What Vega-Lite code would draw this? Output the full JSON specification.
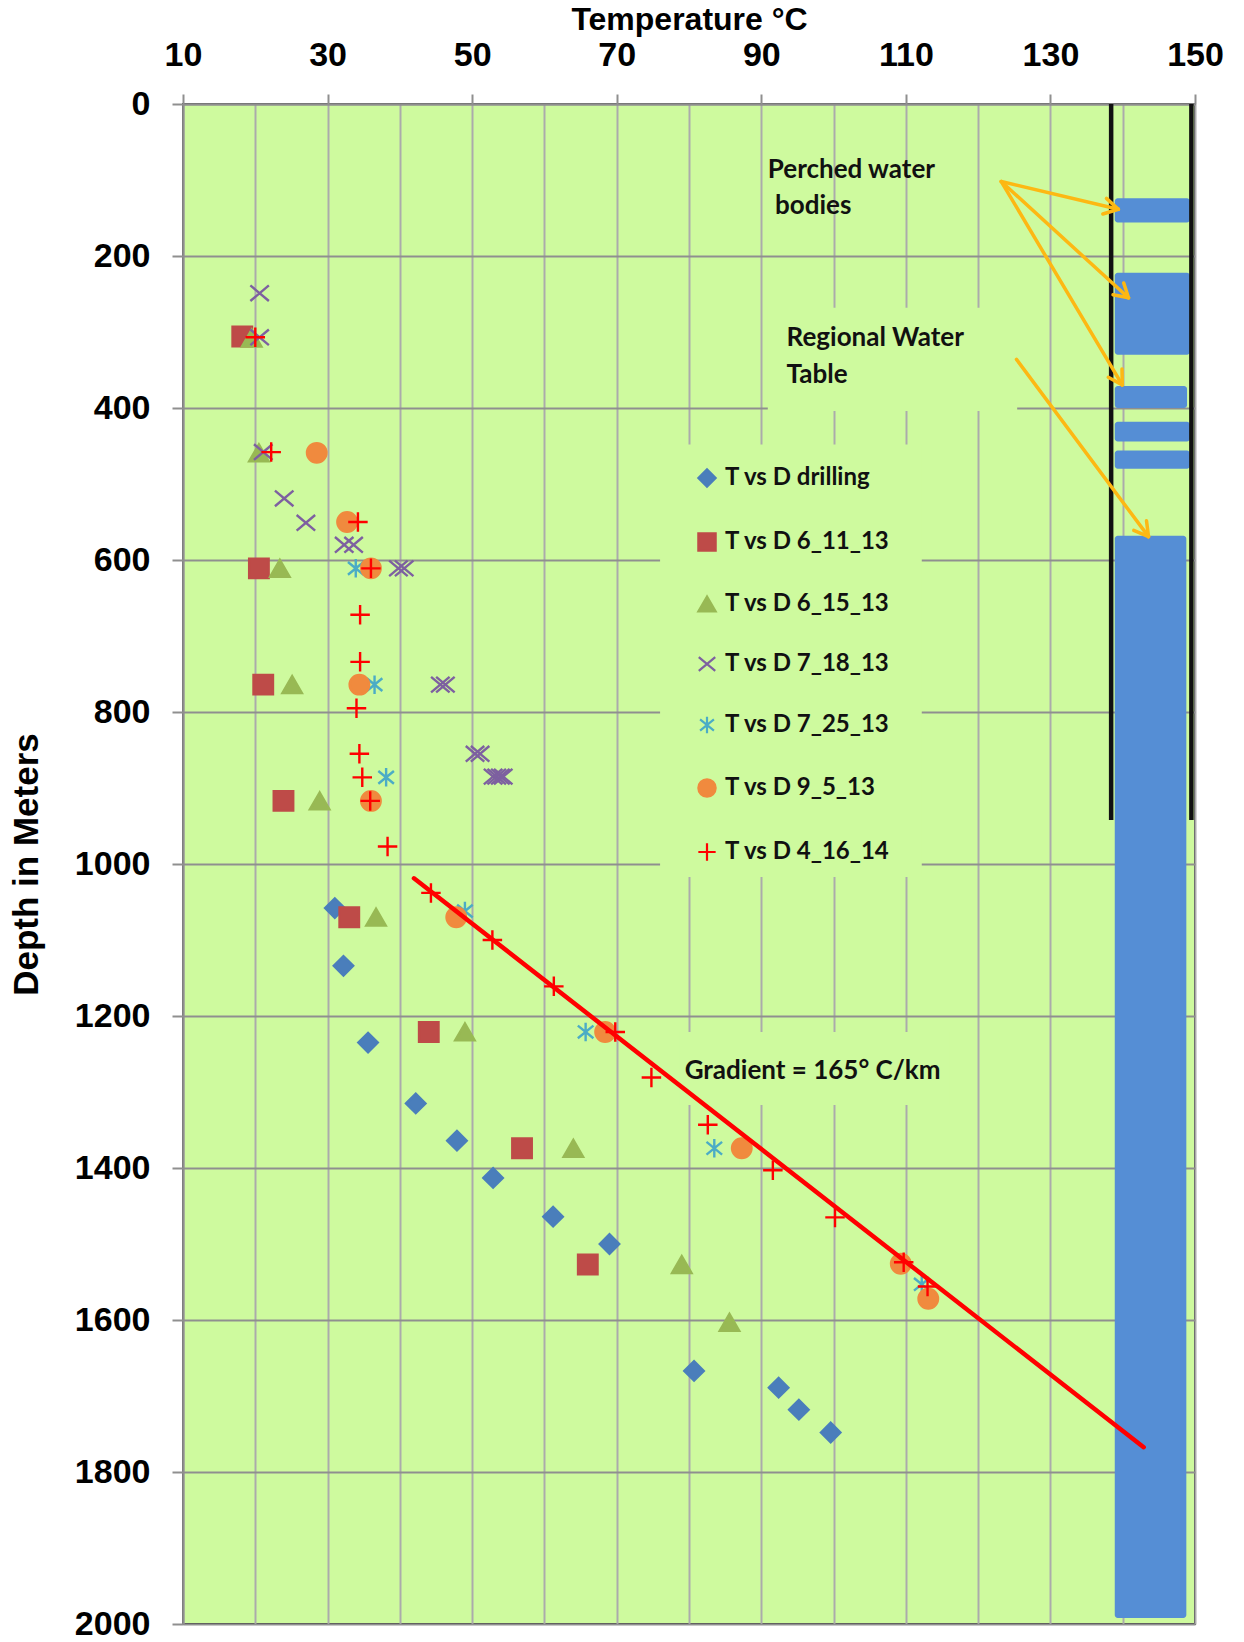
{
  "$schema": "https://vega.github.io/schema/vega-lite/v6.json",
  "width": 1012,
  "height": 1520,
  "autosize": {"type": "none"},
  "padding": {"left": 183, "top": 104, "right": 49, "bottom": 18},
  "background": "white",
  "config": {
    "view": {"fill": "#CEFA9E", "stroke": "#333333", "strokeWidth": 2},
    "legend": {
      "orient": "none",
      "legendX": 512,
      "legendY": 362,
      "title": null,
      "labelFont": "Lato",
      "labelFontSize": 24,
      "labelFontWeight": "bold",
      "labelColor": "#111111",
      "symbolSize": 300,
      "symbolStrokeWidth": 2.2,
      "rowPadding": 36,
      "labelOffset": 6,
      "padding": 0,
      "labelLimit": 400
    }
  },
  "datasets": {
    "covers": [
      {"t": 76.0, "t2": 112.2, "d": 448, "d2": 1017},
      {"t": 90.9, "t2": 125.4, "d": 268, "d2": 404},
      {"t": 78.7, "t2": 116.1, "d": 1221, "d2": 1317}
    ],
    "water": [
      {"t": 138.9, "t2": 149.3, "d": 124, "d2": 156},
      {"t": 138.9, "t2": 149.3, "d": 222, "d2": 330},
      {"t": 138.9, "t2": 148.9, "d": 371, "d2": 400},
      {"t": 138.9, "t2": 149.3, "d": 418, "d2": 444},
      {"t": 138.9, "t2": 149.3, "d": 456, "d2": 480},
      {"t": 138.9, "t2": 148.8, "d": 568, "d2": 1992}
    ],
    "casing": [
      {"t": 138.4, "d": 0, "d2": 942},
      {"t": 149.5, "d": 0, "d2": 942}
    ],
    "arrows": [
      {"t": 123.2, "d": 102, "t2": 139.4, "d2": 138.5},
      {"t": 123.2, "d": 102, "t2": 140.8, "d2": 255.0},
      {"t": 123.2, "d": 102, "t2": 139.94, "d2": 369.6},
      {"t": 125.3, "d": 336, "t2": 143.57, "d2": 569.3},
      {"t": 139.4, "d": 138.5, "t2": 137.75, "d2": 124.2},
      {"t": 139.4, "d": 138.5, "t2": 137.25, "d2": 144.7},
      {"t": 140.8, "d": 255.0, "t2": 140.14, "d2": 235.5},
      {"t": 140.8, "d": 255.0, "t2": 138.66, "d2": 251.1},
      {"t": 139.94, "d": 369.6, "t2": 139.9, "d2": 348.6},
      {"t": 139.94, "d": 369.6, "t2": 138.0, "d2": 359.5},
      {"t": 143.57, "d": 569.3, "t2": 143.29, "d2": 548.4},
      {"t": 143.57, "d": 569.3, "t2": 141.53, "d2": 561.1}
    ],
    "gradline": [
      {"t": 41.95, "d": 1018.8, "t2": 142.9, "d2": 1767.4}
    ],
    "notes": [
      {"t": 90.9, "d": 87, "text": "Perched water"},
      {"t": 91.9, "d": 134, "text": "bodies"},
      {"t": 93.5, "d": 307.5, "text": "Regional Water"},
      {"t": 93.5, "d": 356, "text": "Table"},
      {"t": 79.4, "d": 1273, "text": "Gradient = 165° C/km"}
    ],
    "points": [
      {"series": "T vs D drilling", "t": 31.0, "d": 1058},
      {"series": "T vs D drilling", "t": 32.2, "d": 1134},
      {"series": "T vs D drilling", "t": 35.6, "d": 1235},
      {"series": "T vs D drilling", "t": 42.2, "d": 1315},
      {"series": "T vs D drilling", "t": 47.9, "d": 1364},
      {"series": "T vs D drilling", "t": 52.9, "d": 1413},
      {"series": "T vs D drilling", "t": 61.2, "d": 1464},
      {"series": "T vs D drilling", "t": 69.0, "d": 1500},
      {"series": "T vs D drilling", "t": 80.7, "d": 1667},
      {"series": "T vs D drilling", "t": 92.4, "d": 1689},
      {"series": "T vs D drilling", "t": 95.2, "d": 1718},
      {"series": "T vs D drilling", "t": 99.6, "d": 1748},

      {"series": "T vs D 6_11_13", "t": 18.2, "d": 306},
      {"series": "T vs D 6_11_13", "t": 20.5, "d": 611},
      {"series": "T vs D 6_11_13", "t": 21.1, "d": 764},
      {"series": "T vs D 6_11_13", "t": 23.9, "d": 917},
      {"series": "T vs D 6_11_13", "t": 33.0, "d": 1070},
      {"series": "T vs D 6_11_13", "t": 44.0, "d": 1221},
      {"series": "T vs D 6_11_13", "t": 56.9, "d": 1374},
      {"series": "T vs D 6_11_13", "t": 66.0, "d": 1527},

      {"series": "T vs D 6_15_13", "t": 19.5, "d": 308},
      {"series": "T vs D 6_15_13", "t": 20.5, "d": 459},
      {"series": "T vs D 6_15_13", "t": 23.4, "d": 611},
      {"series": "T vs D 6_15_13", "t": 25.1, "d": 764},
      {"series": "T vs D 6_15_13", "t": 28.9, "d": 917},
      {"series": "T vs D 6_15_13", "t": 36.7, "d": 1070},
      {"series": "T vs D 6_15_13", "t": 49.0, "d": 1221},
      {"series": "T vs D 6_15_13", "t": 64.0, "d": 1374},
      {"series": "T vs D 6_15_13", "t": 79.0, "d": 1527},
      {"series": "T vs D 6_15_13", "t": 85.6, "d": 1603},

      {"series": "T vs D 7_18_13", "t": 20.6, "d": 249},
      {"series": "T vs D 7_18_13", "t": 20.6, "d": 307},
      {"series": "T vs D 7_18_13", "t": 21.1, "d": 458},
      {"series": "T vs D 7_18_13", "t": 24.0, "d": 519},
      {"series": "T vs D 7_18_13", "t": 27.0, "d": 551},
      {"series": "T vs D 7_18_13", "t": 32.3, "d": 580},
      {"series": "T vs D 7_18_13", "t": 33.6, "d": 580},
      {"series": "T vs D 7_18_13", "t": 39.8, "d": 611},
      {"series": "T vs D 7_18_13", "t": 40.6, "d": 611},
      {"series": "T vs D 7_18_13", "t": 45.6, "d": 764},
      {"series": "T vs D 7_18_13", "t": 46.3, "d": 764},
      {"series": "T vs D 7_18_13", "t": 50.4, "d": 855},
      {"series": "T vs D 7_18_13", "t": 51.1, "d": 855},
      {"series": "T vs D 7_18_13", "t": 52.9, "d": 885},
      {"series": "T vs D 7_18_13", "t": 53.4, "d": 885},
      {"series": "T vs D 7_18_13", "t": 53.9, "d": 885},
      {"series": "T vs D 7_18_13", "t": 54.3, "d": 885},

      {"series": "T vs D 7_25_13", "t": 33.9, "d": 611},
      {"series": "T vs D 7_25_13", "t": 36.5, "d": 764},
      {"series": "T vs D 7_25_13", "t": 38.1, "d": 886},
      {"series": "T vs D 7_25_13", "t": 49.0, "d": 1062},
      {"series": "T vs D 7_25_13", "t": 65.7, "d": 1221},
      {"series": "T vs D 7_25_13", "t": 83.5, "d": 1374},
      {"series": "T vs D 7_25_13", "t": 112.2, "d": 1553},

      {"series": "T vs D 9_5_13", "t": 28.5, "d": 459},
      {"series": "T vs D 9_5_13", "t": 32.7, "d": 550},
      {"series": "T vs D 9_5_13", "t": 36.0, "d": 611},
      {"series": "T vs D 9_5_13", "t": 34.4, "d": 764},
      {"series": "T vs D 9_5_13", "t": 36.0, "d": 917},
      {"series": "T vs D 9_5_13", "t": 47.8, "d": 1070},
      {"series": "T vs D 9_5_13", "t": 68.4, "d": 1221},
      {"series": "T vs D 9_5_13", "t": 87.3, "d": 1374},
      {"series": "T vs D 9_5_13", "t": 109.3, "d": 1526},
      {"series": "T vs D 9_5_13", "t": 113.1, "d": 1572},

      {"series": "T vs D 4_16_14", "t": 20.0, "d": 307},
      {"series": "T vs D 4_16_14", "t": 22.2, "d": 458},
      {"series": "T vs D 4_16_14", "t": 34.2, "d": 550},
      {"series": "T vs D 4_16_14", "t": 36.0, "d": 611},
      {"series": "T vs D 4_16_14", "t": 34.5, "d": 672},
      {"series": "T vs D 4_16_14", "t": 34.5, "d": 734},
      {"series": "T vs D 4_16_14", "t": 34.0, "d": 795},
      {"series": "T vs D 4_16_14", "t": 34.4, "d": 855},
      {"series": "T vs D 4_16_14", "t": 34.8, "d": 886},
      {"series": "T vs D 4_16_14", "t": 35.9, "d": 917},
      {"series": "T vs D 4_16_14", "t": 38.3, "d": 977},
      {"series": "T vs D 4_16_14", "t": 44.3, "d": 1038},
      {"series": "T vs D 4_16_14", "t": 52.8, "d": 1100},
      {"series": "T vs D 4_16_14", "t": 61.3, "d": 1161},
      {"series": "T vs D 4_16_14", "t": 69.8, "d": 1221},
      {"series": "T vs D 4_16_14", "t": 74.8, "d": 1281},
      {"series": "T vs D 4_16_14", "t": 82.6, "d": 1343},
      {"series": "T vs D 4_16_14", "t": 91.6, "d": 1403},
      {"series": "T vs D 4_16_14", "t": 100.2, "d": 1465},
      {"series": "T vs D 4_16_14", "t": 109.7, "d": 1524},
      {"series": "T vs D 4_16_14", "t": 113.0, "d": 1556}
    ]
  },
  "encoding": {
    "x": {
      "field": "t",
      "type": "quantitative",
      "scale": {"domain": [10, 150], "nice": false, "zero": false},
      "axis": {
        "orient": "top",
        "title": "Temperature °C",
        "titleFont": "Liberation Sans",
        "titleFontSize": 32,
        "titleFontWeight": "bold",
        "titleColor": "#000000",
        "titlePadding": 2,
        "values": [10, 20, 30, 40, 50, 60, 70, 80, 90, 100, 110, 120, 130, 140, 150],
        "labelExpr": "datum.value % 20 == 10 ? datum.label : ''",
        "labelFont": "Liberation Sans",
        "labelFontSize": 34,
        "labelFontWeight": "bold",
        "labelColor": "#000000",
        "labelPadding": 22,
        "labelFlush": false,
        "labelOverlap": false,
        "tickSize": 10,
        "tickWidth": 2,
        "tickColor": "#8F8F8F",
        "tickOpacity": {"condition": {"test": "datum.value % 20 == 10", "value": 1}, "value": 0},
        "domainColor": "#8F8F8F",
        "domainWidth": 2,
        "gridColor": "#ABABAB",
        "gridWidth": 2
      }
    },
    "y": {
      "field": "d",
      "type": "quantitative",
      "scale": {"domain": [0, 2000], "nice": false, "reverse": true},
      "axis": {
        "title": "Depth in Meters",
        "titleFont": "Liberation Sans",
        "titleFontSize": 35,
        "titleFontWeight": "bold",
        "titleColor": "#000000",
        "titlePadding": 30,
        "values": [0, 200, 400, 600, 800, 1000, 1200, 1400, 1600, 1800, 2000],
        "format": "d",
        "labelFont": "Liberation Sans",
        "labelFontSize": 34,
        "labelFontWeight": "bold",
        "labelColor": "#000000",
        "labelPadding": 22,
        "labelFlush": false,
        "labelOverlap": false,
        "tickSize": 11,
        "tickWidth": 2,
        "tickColor": "#8F8F8F",
        "domainColor": "#8F8F8F",
        "domainWidth": 2,
        "gridColor": "#8F8F8F",
        "gridWidth": 2
      }
    }
  },
  "layer": [
    {
      "data": {"name": "covers"},
      "mark": {"type": "rect", "fill": "#CEFA9E", "stroke": null},
      "encoding": {"x2": {"field": "t2"}, "y2": {"field": "d2"}}
    },
    {
      "data": {"name": "water"},
      "mark": {"type": "rect", "fill": "#558ED5", "cornerRadius": 3},
      "encoding": {"x2": {"field": "t2"}, "y2": {"field": "d2"}}
    },
    {
      "data": {"name": "casing"},
      "mark": {"type": "rule", "color": "#111111", "strokeWidth": 4.5},
      "encoding": {"y2": {"field": "d2"}}
    },
    {
      "data": {"name": "arrows"},
      "mark": {"type": "rule", "color": "#FDB813", "strokeWidth": 3.5, "strokeCap": "round"},
      "encoding": {"x2": {"field": "t2"}, "y2": {"field": "d2"}}
    },
    {
      "data": {"name": "points"},
      "mark": {"type": "point", "size": 380, "strokeWidth": 2.4, "opacity": 1},
      "encoding": {
        "shape": {
          "field": "series",
          "type": "nominal",
          "scale": {
            "domain": ["T vs D drilling", "T vs D 6_11_13", "T vs D 6_15_13", "T vs D 7_18_13", "T vs D 7_25_13", "T vs D 9_5_13", "T vs D 4_16_14"],
            "range": ["diamond", "square", "triangle-up", "M-0.95,-0.8L0.95,0.8M-0.95,0.8L0.95,-0.8", "M-0.8,-0.65L0.8,0.65M-0.8,0.65L0.8,-0.65M0,-0.95L0,0.95", "circle", "M-1,0L1,0M0,-1L0,1"]
          }
        },
        "fill": {
          "field": "series",
          "type": "nominal",
          "scale": {
            "domain": ["T vs D drilling", "T vs D 6_11_13", "T vs D 6_15_13", "T vs D 7_18_13", "T vs D 7_25_13", "T vs D 9_5_13", "T vs D 4_16_14"],
            "range": ["#4A7EBB", "#BE4B48", "#98B954", "transparent", "transparent", "#F08A3E", "transparent"]
          }
        },
        "stroke": {
          "field": "series",
          "type": "nominal",
          "scale": {
            "domain": ["T vs D drilling", "T vs D 6_11_13", "T vs D 6_15_13", "T vs D 7_18_13", "T vs D 7_25_13", "T vs D 9_5_13", "T vs D 4_16_14"],
            "range": ["#4A7EBB", "#BE4B48", "#98B954", "#7D60A0", "#4BACC6", "#F08A3E", "#FF0000"]
          }
        }
      }
    },
    {
      "data": {"name": "gradline"},
      "mark": {"type": "rule", "color": "#FF0000", "strokeWidth": 4.5, "strokeCap": "round"},
      "encoding": {"x2": {"field": "t2"}, "y2": {"field": "d2"}}
    },
    {
      "data": {"name": "notes"},
      "mark": {"type": "text", "font": "Lato", "fontSize": 26, "fontWeight": "bold", "color": "#111111", "align": "left", "baseline": "middle"},
      "encoding": {"text": {"field": "text"}}
    }
  ]
}
